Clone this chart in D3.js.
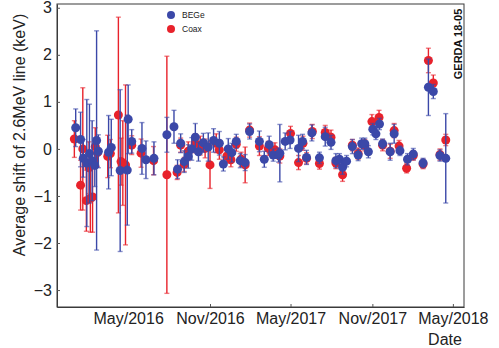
<!DOCTYPE html>
<html>
<head>
<meta charset="utf-8">
<script src="https://cdn.jsdelivr.net/npm/d3@7"></script>
<style>
  body { margin: 0; background: #fff; }
  svg { display: block; font-family: "Liberation Sans", Arial, sans-serif; }
</style>
</head>
<body>
<div id="chart"></div>
<script>
// BEGe detectors: date, shift (keV), error (keV)
const begeDates = [
  '2016-01-04', '2016-01-15', '2016-01-21', '2016-01-29', '2016-02-04', '2016-02-10', '2016-02-16', '2016-02-20', '2016-02-24',
  '2016-03-18', '2016-03-24', '2016-04-13', '2016-04-29', '2016-05-01', '2016-05-09',
  '2016-06-01', '2016-06-10', '2016-06-28',
  '2016-07-27', '2016-08-12', '2016-08-20', '2016-08-27', '2016-09-04', '2016-09-13', '2016-09-21', '2016-09-29',
  '2016-10-06', '2016-10-17', '2016-10-28', '2016-11-09', '2016-11-22', '2016-12-01', '2016-12-12', '2016-12-20',
  '2016-12-30', '2017-01-08', '2017-01-19', '2017-01-29', '2017-02-20', '2017-03-03', '2017-03-14', '2017-03-23',
  '2017-04-04', '2017-04-07', '2017-04-19', '2017-04-30', '2017-05-19', '2017-05-28', '2017-06-06', '2017-06-18',
  '2017-07-05', '2017-07-18', '2017-07-31', '2017-08-11', '2017-08-19', '2017-08-26', '2017-09-04', '2017-09-17',
  '2017-09-30', '2017-10-08', '2017-10-15', '2017-10-23', '2017-11-02', '2017-11-09', '2017-11-17', '2017-11-24',
  '2017-12-11', '2017-12-20', '2018-01-02', '2018-01-19', '2018-02-01', '2018-02-23', '2018-03-07', '2018-03-18',
  '2018-04-02', '2018-04-15'
];
const begeShift = [
  0.45, 0.20, -0.20, -0.30, -0.10, -0.25, -0.35, 0.18, -0.05,
  -0.07, 0.03, -0.46, -0.45, 0.63, 0.16,
  0.01, -0.23, -0.20,
  0.30, 0.47, -0.43, 0.12, -0.27, -0.16, 0.00, 0.25,
  -0.06, 0.13, 0.04, 0.18, 0.12, -0.32, 0.00, -0.08,
  0.16, -0.25, -0.29, 0.37, 0.16, -0.22, 0.09, -0.13,
  -0.13, -0.09, 0.16, 0.19, 0.01, 0.16, -0.18, 0.34,
  -0.19, 0.26, 0.14, -0.25, -0.22, -0.39, -0.26, 0.05,
  -0.13, 0.11, 0.11, -0.06, 0.42, 0.32, 0.53, 0.11,
  -0.06, 0.32, -0.04, -0.22, -0.11, -0.30, 1.31, 1.22,
  -0.14, -0.20
];
const begeErr = [
  0.40, 0.58, 0.40, 1.35, 1.05, 0.85, 0.45, 2.33, 0.35,
  0.78, 0.60, 1.72, 1.17, 0.73, 0.25,
  0.55, 0.40, 0.35,
  0.37, 0.35, 0.20, 0.20, 0.23, 0.25, 0.24, 0.29,
  0.20, 0.20, 0.30, 0.25, 0.25, 0.15, 0.22, 0.20,
  0.15, 0.15, 0.17, 0.16, 0.22, 0.17, 0.18, 0.13,
  0.15, 0.61, 0.18, 0.18, 0.28, 0.15, 0.15, 0.17,
  0.12, 0.20, 0.15, 0.15, 0.12, 0.15, 0.12, 0.15,
  0.12, 0.12, 0.12, 0.13, 0.12, 0.12, 0.12, 0.10,
  0.18, 0.20, 0.10, 0.12, 0.12, 0.10, 0.60, 0.15,
  0.12, 0.95
];

// Coax detectors
const coaxDates = [
  '2016-01-01', '2016-01-15', '2016-01-20', '2016-01-28', '2016-02-03', '2016-02-06', '2016-02-11', '2016-02-17', '2016-02-22',
  '2016-03-16', '2016-03-22', '2016-04-09', '2016-04-15', '2016-04-19', '2016-04-25', '2016-05-09',
  '2016-05-30', '2016-06-27',
  '2016-07-27', '2016-08-19', '2016-08-27', '2016-09-04', '2016-09-13', '2016-09-29', '2016-10-10', '2016-10-21',
  '2016-11-01', '2016-11-15', '2016-11-22', '2016-12-09', '2016-12-18', '2016-12-30', '2017-01-10', '2017-01-19',
  '2017-01-29', '2017-02-20', '2017-03-12', '2017-03-27', '2017-04-07', '2017-05-01', '2017-05-19', '2017-05-29',
  '2017-06-06', '2017-06-19', '2017-07-05', '2017-07-18', '2017-07-31', '2017-08-11', '2017-08-26', '2017-09-17',
  '2017-09-30', '2017-10-15', '2017-10-31', '2017-11-16', '2017-11-24', '2017-12-11', '2017-12-20', '2017-12-31',
  '2018-01-17', '2018-02-01', '2018-02-23', '2018-03-07', '2018-03-18', '2018-04-02', '2018-04-15'
];
const coaxShift = [
  0.21, -0.77, 0.00, -1.10, -0.40, -1.05, -1.02, 0.05, -0.08,
  -0.16, -0.10, 0.72, -0.27, -0.30, -0.34, 0.08,
  -0.09, -0.25,
  -0.55, -0.50, 0.08, -0.33, -0.05, 0.12, 0.07, 0.01,
  -0.34, 0.12, -0.02, -0.15, -0.23, 0.10, -0.22, -0.34,
  0.40, 0.06, 0.01, -0.02, -0.15, 0.33, -0.29, 0.12,
  -0.20, 0.37, -0.31, 0.35, 0.25, -0.30, -0.55, 0.08,
  -0.10, 0.08, 0.58, 0.67, 0.08, -0.05, 0.39, 0.06,
  -0.41, -0.14, -0.32, 1.88, 1.40, -0.12, 0.19
];
const coaxErr = [
  0.39, 0.53, 1.30, 0.65, 0.55, 0.72, 0.75, 0.40, 0.30,
  0.45, 0.30, 2.08, 0.50, 0.90, 1.70, 0.20,
  0.30, 0.30,
  2.52, 0.15, 0.15, 0.15, 0.20, 0.20, 0.20, 0.20,
  0.50, 0.20, 0.20, 0.15, 0.15, 0.15, 0.15, 0.38,
  0.15, 0.20, 0.15, 0.15, 0.15, 0.15, 0.15, 0.15,
  0.12, 0.15, 0.12, 0.15, 0.15, 0.12, 0.14, 0.12,
  0.12, 0.12, 0.15, 0.15, 0.12, 0.15, 0.15, 0.12,
  0.10, 0.10, 0.10, 0.26, 0.17, 0.12, 0.12
];

const xTickDates = ['2016-05-01', '2016-11-01', '2017-05-01', '2017-11-01', '2018-05-01'];
const xTickLabels = ['May/2016', 'Nov/2016', 'May/2017', 'Nov/2017', 'May/2018'];
const yTicks = [-3, -2, -1, 0, 1, 2, 3];
const xDomain = ['2015-11-23', '2018-05-26'];
const yDomain = [-3.36, 3.08];

const colors = { bege: '#3b48a8', coax: '#e8222b' };

const parse = d3.utcParse('%Y-%m-%d');
const width = 499;
const height = 348;
const margin = { top: 4, right: 35, bottom: 41, left: 57 };

const svg = d3
  .select('#chart')
  .append('svg')
  .attr('width', width)
  .attr('height', height);

const xScale = d3
  .scaleUtc()
  .domain(xDomain.map(parse))
  .range([margin.left, width - margin.right]);

const yScale = d3
  .scaleLinear()
  .domain(yDomain)
  .range([height - margin.bottom, margin.top]);

// frame
svg
  .append('rect')
  .attr('x', margin.left)
  .attr('y', margin.top)
  .attr('width', width - margin.right - margin.left)
  .attr('height', height - margin.bottom - margin.top)
  .attr('fill', 'none')
  .attr('stroke', '#3a3a3a')
  .attr('stroke-width', 1);

// axes, ticks pointing inward
const yAxisGroup = svg
  .append('g')
  .attr('transform', `translate(${margin.left}, 0)`)
  .call(
    d3.axisLeft(yScale)
      .tickValues(yTicks)
      .tickSize(-3)
      .tickSizeOuter(0)
      .tickPadding(5)
      .tickFormat(d => (d < 0 ? '\u2212' + Math.abs(d) : String(d)))
  );

const xAxisGroup = svg
  .append('g')
  .attr('transform', `translate(0, ${height - margin.bottom})`)
  .call(
    d3.axisBottom(xScale)
      .tickValues(xTickDates.map(parse))
      .tickSize(-3)
      .tickSizeOuter(0)
      .tickPadding(6)
      .tickFormat((d, i) => xTickLabels[i])
  );

[yAxisGroup, xAxisGroup].forEach(g => {
  g.select('.domain').attr('stroke', '#3a3a3a');
  g.selectAll('.tick line').attr('stroke', '#555');
  g.selectAll('text')
    .attr('fill', '#222')
    .attr('font-size', 16)
    .attr('font-family', '"Liberation Sans", Arial, sans-serif');
});
// first date tick has no mark in the original
xAxisGroup.select('.tick line').remove();

// axis titles
svg
  .append('text')
  .attr('transform', 'rotate(-90)')
  .attr('x', -135)
  .attr('y', 25)
  .attr('text-anchor', 'middle')
  .attr('font-size', 16)
  .attr('fill', '#222')
  .text('Average shift of 2.6MeV line (keV)');

svg
  .append('text')
  .attr('x', 445)
  .attr('y', 345)
  .attr('text-anchor', 'middle')
  .attr('font-size', 16)
  .attr('fill', '#222')
  .text('Date');

svg
  .append('text')
  .attr('transform', 'translate(462, 44) rotate(-90)')
  .attr('text-anchor', 'middle')
  .attr('font-size', 11)
  .attr('font-weight', 'bold')
  .attr('fill', '#111')
  .text('GERDA 18-05');

// error bars + markers
function drawSeries(dates, values, errs, color) {
  const data = dates.map((d, i) => ({ x: parse(d), y: values[i], e: errs[i] }));
  const g = svg.append('g');
  const bars = g
    .selectAll('g')
    .data(data)
    .enter()
    .append('g')
    .attr('stroke', color)
    .attr('stroke-width', 1.4);
  bars
    .append('line')
    .attr('x1', d => xScale(d.x))
    .attr('x2', d => xScale(d.x))
    .attr('y1', d => yScale(d.y + d.e))
    .attr('y2', d => yScale(d.y - d.e));
  bars
    .append('line')
    .attr('x1', d => xScale(d.x) - 2.5)
    .attr('x2', d => xScale(d.x) + 2.5)
    .attr('y1', d => yScale(d.y + d.e))
    .attr('y2', d => yScale(d.y + d.e))
    .attr('stroke-opacity', 0.6);
  bars
    .append('line')
    .attr('x1', d => xScale(d.x) - 2.5)
    .attr('x2', d => xScale(d.x) + 2.5)
    .attr('y1', d => yScale(d.y - d.e))
    .attr('y2', d => yScale(d.y - d.e))
    .attr('stroke-opacity', 0.6);
  bars
    .append('circle')
    .attr('cx', d => xScale(d.x))
    .attr('cy', d => yScale(d.y))
    .attr('r', 4.5)
    .attr('stroke', 'none')
    .attr('fill', color);
}

drawSeries(coaxDates, coaxShift, coaxErr, colors.coax);
drawSeries(begeDates, begeShift, begeErr, colors.bege);

// legend
const legend = [
  { name: 'BEGe', color: colors.bege },
  { name: 'Coax', color: colors.coax }
];
const lg = svg
  .selectAll('.legend')
  .data(legend)
  .enter()
  .append('g')
  .attr('class', 'legend')
  .attr('transform', (d, i) => `translate(171, ${15 + i * 14})`);
lg.append('circle').attr('r', 4).attr('fill', d => d.color);
lg.append('text')
  .attr('x', 11)
  .attr('y', 3)
  .attr('font-size', 8.5)
  .attr('fill', '#222')
  .text(d => d.name);
</script>
</body>
</html>
